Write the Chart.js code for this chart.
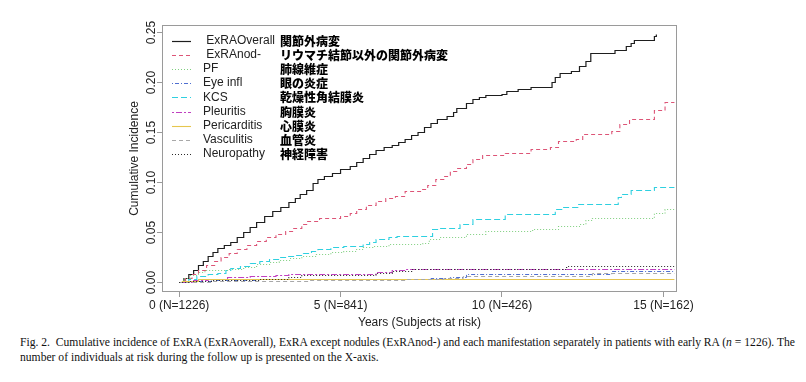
<!DOCTYPE html>
<html>
<head>
<meta charset="utf-8">
<script src="https://cdn.jsdelivr.net/npm/chart.js@4/dist/chart.umd.min.js"></script>
<style>
  html, body { margin: 0; padding: 0; background: #fff; }
  #wrap { position: absolute; left: 0; top: 0; width: 806px; height: 331px; }
  #cap { position: absolute; left: 20px; top: 335px; font-family: 'Liberation Serif', 'DejaVu Serif', serif;
         font-size: 12.5px; line-height: 15px; color: #111; }
  #cap span { display: block; white-space: nowrap; transform-origin: 0 0; }
</style>
</head>
<body>
<div id="wrap"><canvas id="c" width="806" height="331"></canvas></div>
<div id="cap">
  <span id="l1">Fig. 2.&nbsp; Cumulative incidence of ExRA (ExRAoverall), ExRA except nodules (ExRAnod-) and each manifestation separately in patients with early RA (<i>n</i> = 1226). The</span>
  <span id="l2">number of individuals at risk during the follow up is presented on the X-axis.</span>
</div>
<script>
// ---- data ----
const seriesLabels = [' ExRAOverall', ' ExRAnod-', 'PF', 'Eye infl', 'KCS', 'Pleuritis', 'Pericarditis', 'Vasculitis', 'Neuropathy'];
const jpLabels = ['関節外病変', 'リウマチ結節以外の関節外病変', '肺線維症', '眼の炎症', '乾燥性角結膜炎', '胸膜炎', '心膜炎', '血管炎', '神経障害'];

const overallT = [0, 0.15, 0.3, 0.45, 0.6, 0.75, 0.9, 1.05, 1.2, 1.4, 1.6, 1.8, 2.0, 2.2, 2.4, 2.65, 2.9, 3.15, 3.4, 3.6, 3.75, 3.95, 4.15, 4.3, 4.5, 4.75, 5.0, 5.3, 5.5, 5.7, 5.9, 6.1, 6.35, 6.6, 6.8, 7.0, 7.2, 7.4, 7.6, 7.8, 8.0, 8.3, 8.5, 8.6, 8.9, 9.1, 9.3, 9.5, 10.0, 10.15, 10.5, 10.9, 11.55, 11.65, 11.8, 12.15, 12.4, 12.6, 12.75, 13.5, 13.85, 14.0, 14.1, 14.72, 14.78];
const overallV = [0, 0.004, 0.008, 0.012, 0.017, 0.021, 0.026, 0.030, 0.034, 0.037, 0.040, 0.045, 0.050, 0.055, 0.060, 0.066, 0.071, 0.075, 0.080, 0.084, 0.088, 0.092, 0.099, 0.103, 0.106, 0.109, 0.113, 0.116, 0.120, 0.124, 0.128, 0.132, 0.135, 0.137, 0.140, 0.143, 0.147, 0.150, 0.155, 0.159, 0.163, 0.166, 0.170, 0.174, 0.179, 0.183, 0.185, 0.187, 0.188, 0.191, 0.193, 0.195, 0.200, 0.205, 0.209, 0.211, 0.216, 0.221, 0.229, 0.232, 0.236, 0.239, 0.242, 0.246, 0.248];

const nodT = [0, 0.2, 0.4, 0.6, 0.85, 1.1, 1.3, 1.55, 1.8, 2.1, 2.4, 2.7, 3.0, 3.3, 3.55, 3.8, 3.95, 4.35, 5.0, 5.3, 5.5, 5.8, 6.1, 6.4, 6.7, 7.0, 7.5, 7.7, 7.95, 8.2, 8.4, 8.6, 8.9, 9.1, 9.4, 10.1, 10.9, 11.5, 11.75, 12.3, 12.5, 13.4, 13.65, 13.95, 14.72, 15.05, 15.34];
const nodV = [0, 0.004, 0.008, 0.012, 0.017, 0.021, 0.025, 0.029, 0.033, 0.037, 0.041, 0.045, 0.048, 0.051, 0.054, 0.058, 0.061, 0.064, 0.066, 0.069, 0.073, 0.077, 0.081, 0.084, 0.086, 0.091, 0.093, 0.097, 0.103, 0.106, 0.111, 0.114, 0.118, 0.123, 0.127, 0.129, 0.133, 0.135, 0.141, 0.143, 0.148, 0.151, 0.158, 0.163, 0.172, 0.180, 0.180];

const pfT = [0, 0.15, 0.35, 0.6, 0.8, 1.5, 2.0, 2.4, 2.8, 3.1, 3.45, 3.8, 4.25, 4.7, 5.1, 5.5, 5.7, 6.0, 6.5, 7.55, 7.75, 8.1, 8.9, 9.5, 10.95, 11.75, 12.4, 12.6, 12.8, 14.72, 15.05, 15.34];
const pfV = [0, 0.004, 0.007, 0.010, 0.012, 0.013, 0.015, 0.018, 0.020, 0.022, 0.024, 0.026, 0.028, 0.030, 0.031, 0.033, 0.035, 0.036, 0.038, 0.039, 0.043, 0.045, 0.048, 0.051, 0.053, 0.056, 0.058, 0.062, 0.064, 0.069, 0.073, 0.073];

const eyeT = [0, 0.4, 1.0, 2.5, 7.8, 8.4, 8.9, 13.4, 15.34];
const eyeV = [0, 0.001, 0.002, 0.003, 0.004, 0.005, 0.008, 0.011, 0.011];

const kcsT = [0, 0.3, 0.55, 0.9, 1.2, 1.45, 1.6, 1.9, 2.2, 2.5, 2.8, 3.1, 3.35, 3.6, 3.85, 4.1, 4.3, 4.7, 5.1, 5.7, 5.9, 6.1, 6.5, 6.75, 7.85, 8.1, 8.7, 9.1, 10.1, 11.65, 11.85, 12.35, 13.6, 13.7, 14.0, 14.72, 15.34];
const kcsV = [0, 0.003, 0.006, 0.008, 0.009, 0.012, 0.014, 0.016, 0.019, 0.021, 0.023, 0.025, 0.026, 0.027, 0.029, 0.031, 0.033, 0.035, 0.036, 0.038, 0.040, 0.043, 0.045, 0.046, 0.053, 0.054, 0.058, 0.063, 0.068, 0.073, 0.075, 0.078, 0.085, 0.088, 0.092, 0.095, 0.095];

const pleurT = [0, 0.4, 0.9, 1.5, 2.2, 3.0, 3.4, 6.1, 6.6, 7.0, 15.34];
const pleurV = [0, 0.002, 0.003, 0.005, 0.006, 0.007, 0.008, 0.010, 0.012, 0.013, 0.013];

const periT = [0, 0.1, 0.6, 15.34];
const periV = [0, 0.001, 0.003, 0.003];

const vascT = [0, 1.0, 4.0, 7.0, 8.2, 8.8, 12.8, 15.34];
const vascV = [0, 0.001, 0.002, 0.003, 0.004, 0.006, 0.009, 0.009];

const neuroT = [0, 0.3, 1.0, 2.5, 3.4, 3.8, 6.1, 6.6, 7.2, 12.0, 15.34];
const neuroV = [0, 0.001, 0.002, 0.003, 0.005, 0.007, 0.009, 0.011, 0.013, 0.016, 0.016];

const xTickValues = [0, 5, 10, 15];
const xTickLabels = ['0 (N=1226)', '5 (N=841)', '10 (N=426)', '15 (N=162)'];
const yTickValues = [0, 0.05, 0.10, 0.15, 0.20, 0.25];
const yTickLabels = ['0.00', '0.05', '0.10', '0.15', '0.20', '0.25'];

// ---- styles ----
const seriesT = [overallT, nodT, pfT, eyeT, kcsT, pleurT, periT, vascT, neuroT];
const seriesV = [overallV, nodV, pfV, eyeV, kcsV, pleurV, periV, vascV, neuroV];
const colors = ['#1e1e1e', '#dd5577', '#7fcf7f', '#4f6fd0', '#2fd0e0', '#c040c0', '#e6c64e', '#a8a8a8', '#2a2a2a'];
const dashes = [[], [4, 3], [1, 2], [1, 2, 4, 2], [6, 3], [2, 2, 6, 2], [], [4, 3], [1, 2]];
const widths = [1.2, 1.1, 1.1, 1, 1.1, 1.1, 1.1, 1, 1.2];

const datasets = seriesLabels.map((lab, i) => ({
  label: lab,
  data: seriesT[i].map((t, k) => ({ x: t, y: seriesV[i][k] })),
  borderColor: colors[i],
  backgroundColor: colors[i],
  borderDash: dashes[i],
  borderWidth: widths[i],
  stepped: 'before',
  pointRadius: 0,
  fill: false
})).reverse();

const boxPlugin = {
  id: 'box',
  afterDraw(chart) {
    const { ctx, chartArea: a } = chart;
    ctx.save();
    ctx.strokeStyle = '#9a9a9a';
    ctx.lineWidth = 1;
    ctx.strokeRect(Math.round(a.left) + 0.5, Math.round(a.top) + 0.5, Math.round(a.right - a.left) - 1, Math.round(a.bottom - a.top) - 1);
    ctx.restore();
  }
};

const legendPlugin = {
  id: 'rlegend',
  afterDraw(chart) {
    const ctx = chart.ctx;
    ctx.save();
    for (let i = 0; i < seriesLabels.length; i++) {
      const y = 40.5 + i * 14.2;
      ctx.beginPath();
      ctx.strokeStyle = colors[i];
      ctx.lineWidth = widths[i];
      ctx.setLineDash(dashes[i]);
      ctx.moveTo(172, Math.round(y) + 0.5);
      ctx.lineTo(191, Math.round(y) + 0.5);
      ctx.stroke();
      ctx.setLineDash([]);
      ctx.fillStyle = '#222';
      ctx.font = '12px "Liberation Sans", Arial, sans-serif';
      ctx.textBaseline = 'middle';
      ctx.textAlign = 'left';
      ctx.fillText(seriesLabels[i], 203, y);
      ctx.fillStyle = '#000';
      ctx.font = '900 12px "Noto Sans CJK JP", sans-serif';
      ctx.fillText(jpLabels[i], 280, y + 0.5);
    }
    ctx.restore();
  }
};

new Chart(document.getElementById('c'), {
  type: 'line',
  data: { datasets },
  options: {
    responsive: false,
    animation: false,
    devicePixelRatio: 1,
    layout: { padding: { left: 120, right: 129, top: 25, bottom: 1 } },
    plugins: { legend: { display: false }, tooltip: { enabled: false } },
    scales: {
      x: {
        type: 'linear',
        min: -0.53, max: 15.42,
        afterFit(s) { s.height = 38; },
        afterBuildTicks(s) { s.ticks = xTickValues.map(v => ({ value: v })); },
        ticks: {
          autoSkip: false, maxRotation: 0, minRotation: 0, padding: 1,
          color: '#222', font: { family: '"Liberation Sans", Arial, sans-serif', size: 12 },
          callback(v) { const k = xTickValues.indexOf(v); return k >= 0 ? xTickLabels[k] : ''; }
        },
        grid: { display: true, drawOnChartArea: false, drawTicks: true, tickLength: 5, color: '#9a9a9a' },
        border: { display: false },
        title: { display: true, text: 'Years (Subjects at risk)', color: '#222',
                 font: { family: '"Liberation Sans", Arial, sans-serif', size: 12 }, padding: { top: 0, bottom: 0 } }
      },
      y: {
        type: 'linear',
        min: -0.0095, max: 0.2575,
        afterFit(s) { s.width = 42; },
        afterBuildTicks(s) { s.ticks = yTickValues.map(v => ({ value: v })); },
        ticks: {
          autoSkip: false, minRotation: 90, maxRotation: 90, crossAlign: 'center', padding: -6,
          color: '#222', font: { family: '"Liberation Sans", Arial, sans-serif', size: 12 },
          callback(v) { const k = yTickValues.findIndex(t => Math.abs(t - v) < 1e-9); return k >= 0 ? yTickLabels[k] : ''; }
        },
        grid: { display: true, drawOnChartArea: false, drawTicks: true, tickLength: 5, color: '#9a9a9a' },
        border: { display: false },
        title: { display: true, text: 'Cumulative Incidence', color: '#222',
                 font: { family: '"Liberation Sans", Arial, sans-serif', size: 12 }, padding: { top: 7, bottom: 0 } }
      }
    }
  },
  plugins: [boxPlugin, legendPlugin]
});

// fit the caption to the reference's line width
(function () {
  const l1 = document.getElementById('l1'), l2 = document.getElementById('l2');
  const w = l1.getBoundingClientRect().width;
  const s = 775 / w;
  l1.style.transform = 'scaleX(' + s + ')';
  l2.style.transform = 'scaleX(' + s + ')';
})();
</script>
</body>
</html>
